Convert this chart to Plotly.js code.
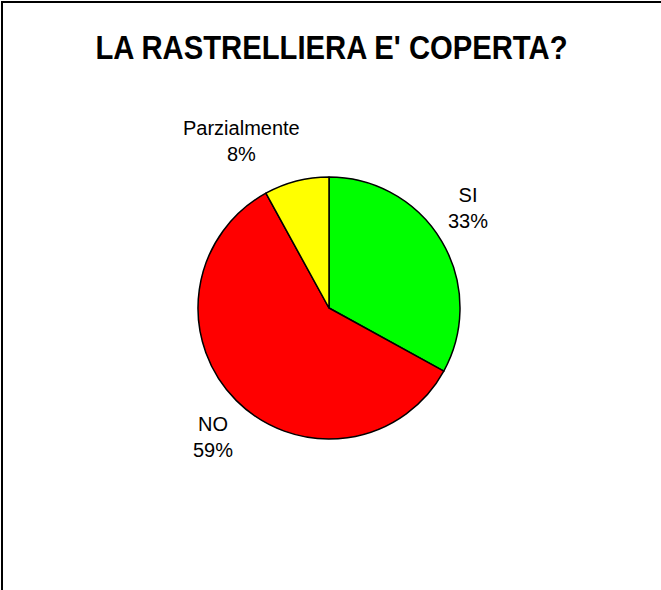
<!DOCTYPE html>
<html><head><meta charset="utf-8">
<script src="https://cdn.plot.ly/plotly-3.0.1.min.js"></script>
<style>
html,body{margin:0;padding:0;background:#fff;}
#wrap{position:relative;width:661px;height:590px;}
#chart{width:661px;height:590px;}
#frame{position:absolute;left:1px;top:1px;width:700px;height:700px;border-left:2px solid #000;border-top:2px solid #000;pointer-events:none;}
</style></head>
<body><div id="wrap"><div id="chart"></div><div id="frame"></div></div>
<script>
const categories = ["SI", "NO", "Parzialmente"];
const values = [33, 59, 8];
const colors = ["#00FF00", "#FF0000", "#FFFF00"];
const titleText = "LA RASTRELLIERA E' COPERTA?";

const W = 661, H = 590;
// pie geometry (pixels)
const cx = 329, cy = 308, R = 131, gap = 15, hpull = 9;
const labelFont = {family: "Liberation Sans, Arial, sans-serif", size: 20, color: "#000"};

const trace = {
  type: "pie",
  labels: categories,
  values: values,
  sort: false,
  direction: "clockwise",
  rotation: 0,
  marker: {colors: colors, line: {color: "#000", width: 1.5}},
  textinfo: "none",
  textposition: "none",
  hoverinfo: "none",
  domain: {x: [(cx - R) / W, (cx + R) / W], y: [(H - cy - R) / H, (H - cy + R) / H]}
};

// labels placed outside, derived from each slice's mid-angle
const total = values.reduce((a, b) => a + b, 0);
let cum = 0;
const annotations = values.map((v, i) => {
  const mid = (cum + v / 2) / total * 2 * Math.PI;
  cum += v;
  const s = Math.sin(mid), c = Math.cos(mid);
  const px = cx + (R + gap) * s, py = cy - (R + gap) * c;
  const pct = Math.round(v / total * 100);
  return {
    xref: "paper", yref: "paper",
    x: px / W, y: (H - py) / H,
    xanchor: s >= 0 ? "left" : "right",
    yanchor: c >= 0 ? "bottom" : "top",
    xshift: s >= 0 ? -hpull : hpull,
    align: "center",
    showarrow: false,
    text: categories[i] + "<br>" + pct + "%",
    font: labelFont
  };
});

const layout = {
  width: W, height: H,
  margin: {l: 0, r: 0, t: 0, b: 0},
  paper_bgcolor: "#fff",
  showlegend: false,
  annotations: annotations,
  title: {text: "<b>" + titleText + "</b>", x: 331.5 / W, xanchor: "center", y: 1 - 48 / H, yanchor: "middle",
          font: {family: "Liberation Sans, Arial, sans-serif", size: 32.5, color: "#000"}}
};
Plotly.newPlot("chart", [trace], layout, {staticPlot: true, displayModeBar: false}).then(() => {
  const t = document.querySelector(".gtitle");
  if (t) {
    const bb = t.getBBox();
    const mx = bb.x + bb.width / 2;
    const prev = t.getAttribute("transform") || "";
    t.setAttribute("transform", prev + " translate(" + mx + ",0) scale(0.9,1) translate(" + (-mx) + ",0)");
  }
});
</script></body></html>
